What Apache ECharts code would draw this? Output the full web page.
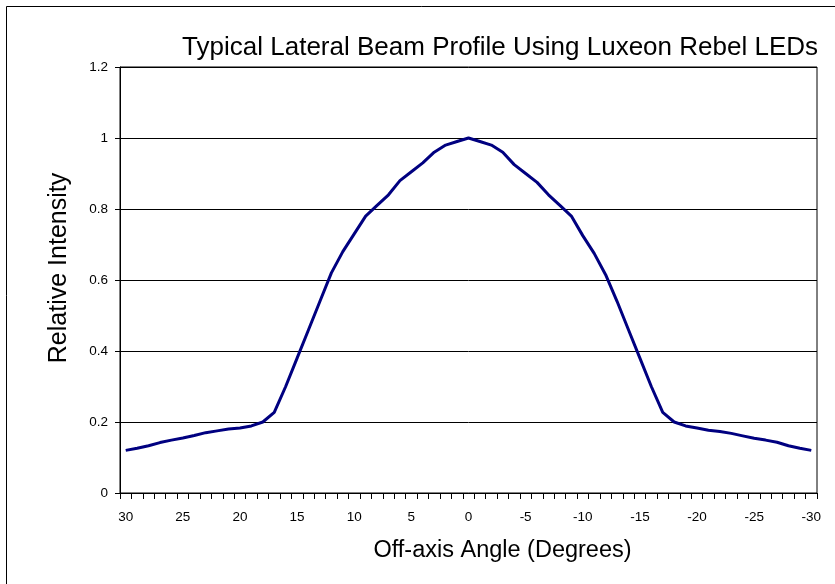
<!DOCTYPE html>
<html>
<head>
<meta charset="utf-8">
<script src="https://cdn.jsdelivr.net/npm/echarts@6/dist/echarts.min.js"></script>
<style>
	html, body { margin: 0; padding: 0; background: #fff; }
	#main { width: 835px; height: 584px; }
</style>
</head>
<body>
<div id="main"></div>
<script>
var main = echarts.init(document.getElementById('main'));

// 角度 (30 到 -30)
var angles = ['30', '29', '28', '27', '26', '25', '24', '23', '22', '21',
	'20', '19', '18', '17', '16', '15', '14', '13', '12', '11',
	'10', '9', '8', '7', '6', '5', '4', '3', '2', '1',
	'0', '-1', '-2', '-3', '-4', '-5', '-6', '-7', '-8', '-9',
	'-10', '-11', '-12', '-13', '-14', '-15', '-16', '-17', '-18', '-19',
	'-20', '-21', '-22', '-23', '-24', '-25', '-26', '-27', '-28', '-29', '-30'];

// 相对强度
var intensity = [0.12, 0.126, 0.133, 0.142, 0.149, 0.155, 0.162, 0.17, 0.175, 0.18,
	0.183, 0.189, 0.2, 0.227, 0.3, 0.38, 0.46, 0.54, 0.62, 0.68,
	0.73, 0.78, 0.81, 0.84, 0.88, 0.905, 0.93, 0.96, 0.98, 0.99,
	1.0, 0.99, 0.98, 0.96, 0.925, 0.9, 0.875, 0.84, 0.81, 0.78,
	0.725, 0.675, 0.615, 0.54, 0.46, 0.38, 0.3, 0.227, 0.2, 0.189,
	0.183, 0.177, 0.173, 0.168, 0.161, 0.154, 0.149, 0.143, 0.133, 0.126, 0.12];

var yTicks = [0, 0.2, 0.4, 0.6, 0.8, 1, 1.2];

var font = "'Liberation Sans', Arial, sans-serif";

option = {
	animation: false,
	backgroundColor: '#fff',
	title: {
		text: 'Typical Lateral Beam Profile Using Luxeon Rebel LEDs',
		right: 12,
		top: 30,
		textStyle: {
			fontFamily: font,
			fontSize: 26,
			fontWeight: 'normal',
			color: '#000'
		}
	},
	graphic: [{
		type: 'rect',
		shape: { x: 6.5, y: 6.5, width: 840, height: 600 },
		style: { fill: 'none', stroke: '#000', lineWidth: 1 },
		silent: true
	}],
	grid: {
		left: 120,
		right: 18,
		top: 67,
		bottom: 91,
		show: true,
		borderColor: '#000',
		borderWidth: 1
	},
	xAxis: {
		type: 'category',
		data: angles,
		boundaryGap: true,
		name: 'Off-axis Angle (Degrees)',
		nameLocation: 'middle',
		nameGap: 46,
		nameTextStyle: {
			fontFamily: font,
			fontSize: 23.5,
			color: '#000',
			padding: [0, 0, 0, 68]
		},
		axisLine: { lineStyle: { color: '#000', width: 1 } },
		axisTick: { show: true, interval: 0, length: 6, lineStyle: { color: '#000' } },
		axisLabel: {
			interval: 4,
			margin: 17,
			fontFamily: font,
			fontSize: 13.5,
			color: '#000'
		},
		splitLine: { show: false }
	},
	yAxis: {
		type: 'value',
		min: yTicks[0],
		max: yTicks[yTicks.length - 1],
		interval: 0.2,
		name: 'Relative Intensity',
		nameLocation: 'middle',
		nameGap: 48,
		nameTextStyle: {
			fontFamily: font,
			fontSize: 25,
			color: '#000',
			padding: [0, 0, 0, 24]
		},
		axisLine: { show: true, lineStyle: { color: '#000', width: 1 } },
		axisTick: { show: true, length: 5, lineStyle: { color: '#000' } },
		axisLabel: {
			margin: 12,
			fontFamily: font,
			fontSize: 13.5,
			color: '#000'
		},
		splitLine: { show: true, lineStyle: { color: '#000', width: 1 } }
	},
	series: [{
		name: 'Relative Intensity',
		type: 'line',
		data: intensity,
		showSymbol: false,
		symbol: 'none',
		smooth: false,
		lineStyle: { color: '#000080', width: 3 }
	}]
};
main.setOption(option);
</script>
</body>
</html>
